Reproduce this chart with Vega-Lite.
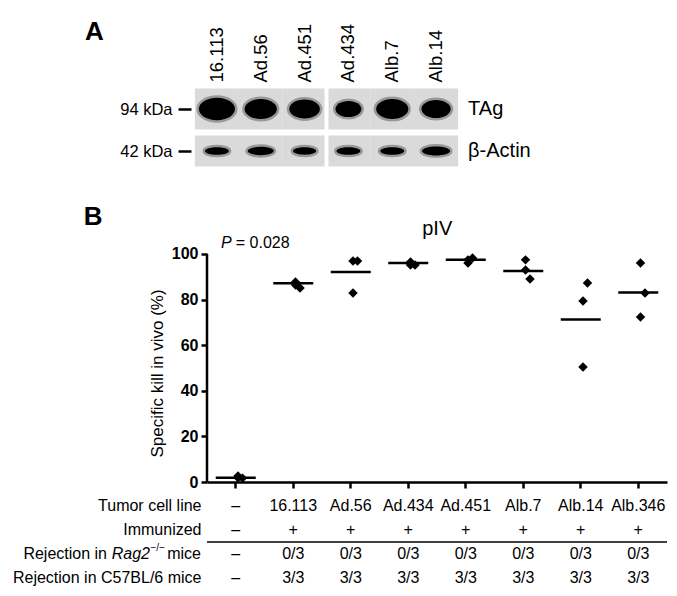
{
  "$schema": "https://vega.github.io/schema/vega-lite/v6.json",
  "padding": {"top": 19, "left": 12, "right": 4, "bottom": 5},
  "background": "white",
  "config": {"font": "Liberation Sans", "view": {"stroke": null}, "axis": {"grid": false}},
  "spacing": 4,
  "datasets": {
    "blot": [
      {"lane": "16.113", "row": "TAg", "signal": 100},
      {"lane": "Ad.56", "row": "TAg", "signal": 80},
      {"lane": "Ad.451", "row": "TAg", "signal": 72},
      {"lane": "Ad.434", "row": "TAg", "signal": 52},
      {"lane": "Alb.7", "row": "TAg", "signal": 80},
      {"lane": "Alb.14", "row": "TAg", "signal": 66},
      {"lane": "16.113", "row": "β-Actin", "signal": 44},
      {"lane": "Ad.56", "row": "β-Actin", "signal": 52},
      {"lane": "Ad.451", "row": "β-Actin", "signal": 41},
      {"lane": "Ad.434", "row": "β-Actin", "signal": 44},
      {"lane": "Alb.7", "row": "β-Actin", "signal": 44},
      {"lane": "Alb.14", "row": "β-Actin", "signal": 60}
    ],
    "pts": [
      {"line": "–", "jit": "c", "kill": 2.6},
      {"line": "–", "jit": "r", "kill": 1.7},
      {"line": "–", "jit": "c", "kill": 1.9},
      {"line": "16.113", "jit": "c", "kill": 87.7},
      {"line": "16.113", "jit": "c", "kill": 86.4},
      {"line": "16.113", "jit": "r", "kill": 85.1},
      {"line": "Ad.56", "jit": "c", "kill": 96.9},
      {"line": "Ad.56", "jit": "r", "kill": 96.9},
      {"line": "Ad.56", "jit": "c", "kill": 82.9},
      {"line": "Ad.434", "jit": "c", "kill": 96.5},
      {"line": "Ad.434", "jit": "c", "kill": 95.2},
      {"line": "Ad.434", "jit": "r", "kill": 95.2},
      {"line": "Ad.451", "jit": "c", "kill": 96.0},
      {"line": "Ad.451", "jit": "r", "kill": 98.2},
      {"line": "Ad.451", "jit": "c", "kill": 97.4},
      {"line": "Alb.7", "jit": "c", "kill": 97.4},
      {"line": "Alb.7", "jit": "c", "kill": 93.0},
      {"line": "Alb.7", "jit": "r", "kill": 89.0},
      {"line": "Alb.14", "jit": "r", "kill": 87.3},
      {"line": "Alb.14", "jit": "c", "kill": 79.4},
      {"line": "Alb.14", "jit": "c", "kill": 50.4},
      {"line": "Alb.346", "jit": "c", "kill": 96.0},
      {"line": "Alb.346", "jit": "r", "kill": 82.9},
      {"line": "Alb.346", "jit": "c", "kill": 72.4}
    ],
    "med": [
      {"line": "–", "mean": 1.9},
      {"line": "16.113", "mean": 87.2},
      {"line": "Ad.56", "mean": 92.1},
      {"line": "Ad.434", "mean": 96.0},
      {"line": "Ad.451", "mean": 97.4},
      {"line": "Alb.7", "mean": 92.5},
      {"line": "Alb.14", "mean": 71.2},
      {"line": "Alb.346", "mean": 83.1}
    ],
    "tbl": [
      {"line": "–", "row": "tcl", "v": "–"},
      {"line": "16.113", "row": "tcl", "v": "16.113"},
      {"line": "Ad.56", "row": "tcl", "v": "Ad.56"},
      {"line": "Ad.434", "row": "tcl", "v": "Ad.434"},
      {"line": "Ad.451", "row": "tcl", "v": "Ad.451"},
      {"line": "Alb.7", "row": "tcl", "v": "Alb.7"},
      {"line": "Alb.14", "row": "tcl", "v": "Alb.14"},
      {"line": "Alb.346", "row": "tcl", "v": "Alb.346"},
      {"line": "–", "row": "imm", "v": "–"},
      {"line": "16.113", "row": "imm", "v": "+"},
      {"line": "Ad.56", "row": "imm", "v": "+"},
      {"line": "Ad.434", "row": "imm", "v": "+"},
      {"line": "Ad.451", "row": "imm", "v": "+"},
      {"line": "Alb.7", "row": "imm", "v": "+"},
      {"line": "Alb.14", "row": "imm", "v": "+"},
      {"line": "Alb.346", "row": "imm", "v": "+"},
      {"line": "–", "row": "rag", "v": "–"},
      {"line": "16.113", "row": "rag", "v": "0/3"},
      {"line": "Ad.56", "row": "rag", "v": "0/3"},
      {"line": "Ad.434", "row": "rag", "v": "0/3"},
      {"line": "Ad.451", "row": "rag", "v": "0/3"},
      {"line": "Alb.7", "row": "rag", "v": "0/3"},
      {"line": "Alb.14", "row": "rag", "v": "0/3"},
      {"line": "Alb.346", "row": "rag", "v": "0/3"},
      {"line": "–", "row": "c57", "v": "–"},
      {"line": "16.113", "row": "c57", "v": "3/3"},
      {"line": "Ad.56", "row": "c57", "v": "3/3"},
      {"line": "Ad.434", "row": "c57", "v": "3/3"},
      {"line": "Ad.451", "row": "c57", "v": "3/3"},
      {"line": "Alb.7", "row": "c57", "v": "3/3"},
      {"line": "Alb.14", "row": "c57", "v": "3/3"},
      {"line": "Alb.346", "row": "c57", "v": "3/3"}
    ]
  },
  "vconcat": [
    {
      "width": 251,
      "height": 84,
      "resolve": {"scale": {"shape": "independent", "size": "independent"}},
      "layer": [
        {
          "data": {"name": "blot"},
          "mark": {"type": "point", "filled": true, "color": "#dadada", "opacity": 1, "size": 1940, "strokeWidth": 0},
          "encoding": {
            "x": {"field": "lane", "type": "nominal",
              "scale": {"domain": ["16.113", "Ad.56", "Ad.451", "Ad.434", "Alb.7", "Alb.14"], "range": [-12, 251], "paddingInner": 0, "paddingOuter": 0},
              "axis": {"orient": "top", "title": null, "labelAngle": -90, "labelFontSize": 18.5, "labelPadding": 6, "ticks": false, "domain": false, "labelColor": "black"}},
            "y": {"field": "row", "type": "nominal",
              "scale": {"domain": ["TAg", "β-Actin"], "paddingInner": 0, "paddingOuter": 0},
              "axis": {"title": null, "labelExpr": "datum.value == 'TAg' ? '94 kDa' : '42 kDa'", "domain": false, "tickSize": 13, "tickWidth": 2.5, "tickColor": "black", "offset": 16, "labelPadding": 6, "labelFontSize": 16.5, "labelColor": "black"}},
            "shape": {"field": "row", "type": "nominal", "scale": {"domain": ["TAg", "β-Actin"], "range": ["M-1,-0.93H1V0.93H-1Z", "M-1,-0.705H1V0.705H-1Z"]}, "legend": null}
          }
        },
        {
          "data": {"name": "blot"},
          "mark": {"type": "point", "filled": true, "color": "black", "opacity": 1, "stroke": "black", "strokeWidth": 5, "strokeOpacity": 0.3},
          "encoding": {
            "x": {"field": "lane", "type": "nominal"},
            "y": {"field": "row", "type": "nominal"},
            "size": {"field": "signal", "type": "quantitative", "scale": {"domain": [0, 100], "range": [0, 1300]}, "legend": null},
            "shape": {"field": "row", "type": "nominal", "scale": {"domain": ["TAg", "β-Actin"], "range": ["M-1,0A1,0.62,0,1,0,1,0A1,0.62,0,1,0,-1,0Z", "M-1,0A1,0.32,0,1,0,1,0A1,0.32,0,1,0,-1,0Z"]}, "legend": null}
          }
        },
        {
          "data": {"values": [{}]},
          "mark": {"type": "rule", "color": "white", "strokeWidth": 4},
          "encoding": {"x": {"datum": "Ad.434", "bandPosition": 0}}
        },
        {
          "data": {"values": [{"row": "TAg"}, {"row": "β-Actin"}]},
          "mark": {"type": "text", "align": "left", "baseline": "middle", "dx": 32, "fontSize": 20, "color": "black"},
          "encoding": {
            "x": {"datum": "Alb.14"},
            "y": {"field": "row", "type": "nominal"},
            "text": {"field": "row"}
          }
        },
        {
          "data": {"values": [{"t": "A"}]},
          "mark": {"type": "text", "align": "left", "baseline": "middle", "fontSize": 26, "fontWeight": "bold", "dx": -132, "dy": -77, "color": "black"},
          "encoding": {
            "x": {"datum": "16.113"},
            "y": {"datum": "TAg"},
            "text": {"field": "t"}
          }
        }
      ]
    },
    {
      "width": 460,
      "height": 304,
      "layer": [
        {
          "data": {"name": "pts"},
          "mark": {"type": "point", "shape": "diamond", "filled": true, "color": "black", "size": 90, "opacity": 1},
          "encoding": {
            "x": {"field": "line", "type": "nominal",
              "scale": {"domain": ["–", "16.113", "Ad.56", "Ad.434", "Ad.451", "Alb.7", "Alb.14", "Alb.346"], "paddingInner": 0, "paddingOuter": 0},
              "axis": {"labels": false, "title": null, "domain": true, "domainWidth": 2.5, "domainColor": "black", "tickSize": 6, "tickWidth": 2.5, "tickColor": "black"}},
            "xOffset": {"field": "jit", "type": "nominal", "scale": {"domain": ["c", "r"], "range": [28.75, 37.75]}},
            "y": {"field": "kill", "type": "quantitative",
              "scale": {"domain": [0, 133.3], "nice": false},
              "axis": {"title": "Specific kill in vivo (%)", "values": [0, 20, 40, 60, 80, 100], "domain": false, "tickSize": 6, "tickWidth": 2.5, "tickColor": "black", "labelFontSize": 16, "labelFontWeight": "bold", "labelColor": "black", "labelPadding": 3, "titleFontSize": 17, "titleFontWeight": "normal", "titleColor": "black", "titlePadding": 5, "titleY": 195}}
          }
        },
        {
          "data": {"name": "med"},
          "mark": {"type": "tick", "color": "black", "size": 40, "thickness": 2.5, "opacity": 1},
          "encoding": {
            "x": {"field": "line", "type": "nominal"},
            "y": {"field": "mean", "type": "quantitative"}
          }
        },
        {
          "data": {"values": [{}]},
          "mark": {"type": "rule", "color": "black", "strokeWidth": 2.5},
          "encoding": {
            "x": {"datum": "–", "bandPosition": 0},
            "y": {"datum": 0},
            "y2": {"datum": 100}
          }
        },
        {
          "data": {"values": [{"t": "B"}]},
          "mark": {"type": "text", "align": "left", "baseline": "middle", "fontSize": 26, "fontWeight": "bold", "dx": -152, "color": "black"},
          "encoding": {
            "x": {"datum": "–"},
            "y": {"datum": 116},
            "text": {"field": "t"}
          }
        },
        {
          "data": {"values": [{"t": "pIV"}]},
          "mark": {"type": "text", "align": "center", "baseline": "middle", "fontSize": 20, "dx": 29, "color": "black"},
          "encoding": {
            "x": {"datum": "Ad.434"},
            "y": {"datum": 111},
            "text": {"field": "t"}
          }
        },
        {
          "data": {"values": [{"t": "P"}]},
          "mark": {"type": "text", "align": "right", "baseline": "middle", "fontSize": 16, "fontStyle": "italic", "dx": -4, "color": "black"},
          "encoding": {
            "x": {"datum": "–"},
            "y": {"datum": 104.8},
            "text": {"field": "t"}
          }
        },
        {
          "data": {"values": [{"t": "= 0.028"}]},
          "mark": {"type": "text", "align": "left", "baseline": "middle", "fontSize": 16, "dx": 0, "color": "black"},
          "encoding": {
            "x": {"datum": "–"},
            "y": {"datum": 104.8},
            "text": {"field": "t"}
          }
        }
      ]
    },
    {
      "width": 460,
      "height": 96,
      "layer": [
        {
          "data": {"name": "tbl"},
          "mark": {"type": "text", "fontSize": 16, "baseline": "middle", "color": "black"},
          "encoding": {
            "x": {"field": "line", "type": "nominal",
              "scale": {"domain": ["–", "16.113", "Ad.56", "Ad.434", "Ad.451", "Alb.7", "Alb.14", "Alb.346"], "paddingInner": 0, "paddingOuter": 0},
              "axis": null},
            "y": {"field": "row", "type": "nominal",
              "scale": {"domain": ["tcl", "imm", "rag", "c57"], "paddingInner": 0, "paddingOuter": 0},
              "axis": {"title": null, "domain": false, "ticks": false, "labelPadding": 6, "labelFontSize": 16, "labelColor": "black", "labelLimit": 400,
                "labelExpr": "datum.value == 'tcl' ? 'Tumor cell line' : datum.value == 'imm' ? 'Immunized' : datum.value == 'c57' ? 'Rejection in C57BL/6 mice' : ''"}},
            "text": {"field": "v"}
          }
        },
        {
          "data": {"values": [{"row": "rag", "t": "mice"}]},
          "mark": {"type": "text", "fontSize": 16, "align": "right", "baseline": "middle", "dx": -34.75, "color": "black"},
          "encoding": {
            "x": {"datum": "–"},
            "y": {"field": "row", "type": "nominal"},
            "text": {"field": "t"}
          }
        },
        {
          "data": {"values": [{"row": "rag", "t": "−/−"}]},
          "mark": {"type": "text", "fontSize": 10, "align": "right", "baseline": "middle", "dx": -70.75, "dy": -6, "color": "black"},
          "encoding": {
            "x": {"datum": "–"},
            "y": {"field": "row", "type": "nominal"},
            "text": {"field": "t"}
          }
        },
        {
          "data": {"values": [{"row": "rag", "t": "Rag2"}]},
          "mark": {"type": "text", "fontSize": 16, "fontStyle": "italic", "align": "right", "baseline": "middle", "dx": -85.75, "color": "black"},
          "encoding": {
            "x": {"datum": "–"},
            "y": {"field": "row", "type": "nominal"},
            "text": {"field": "t"}
          }
        },
        {
          "data": {"values": [{"row": "rag", "t": "Rejection in"}]},
          "mark": {"type": "text", "fontSize": 16, "align": "right", "baseline": "middle", "dx": -128.75, "color": "black"},
          "encoding": {
            "x": {"datum": "–"},
            "y": {"field": "row", "type": "nominal"},
            "text": {"field": "t"}
          }
        },
        {
          "data": {"values": [{}]},
          "mark": {"type": "rule", "color": "black", "strokeWidth": 1.5},
          "encoding": {"y": {"datum": "rag", "bandPosition": 0}}
        }
      ]
    }
  ]
}
